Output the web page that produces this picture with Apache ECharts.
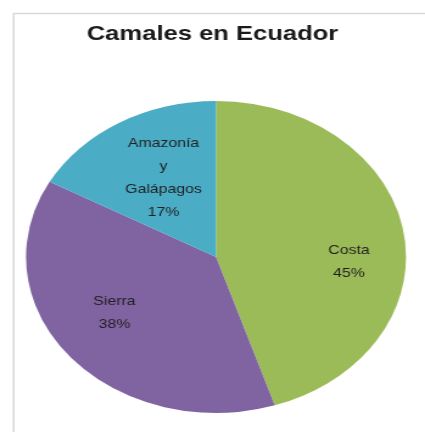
<!DOCTYPE html>
<html>
<head>
<meta charset="utf-8">
<script src="https://cdn.jsdelivr.net/npm/echarts@6/dist/echarts.min.js"></script>
<style>
html,body{margin:0;padding:0;background:#fff;overflow:hidden;width:425px;height:432px;}
#chart{width:349px;height:432px;transform:scaleX(1.2178);transform-origin:0 0;}
</style>
</head>
<body>
<div id="chart"></div>
<script>
const titleText = 'Camales en Ecuador';
const categories = ['Costa', 'Sierra', 'Amazonía y Galápagos'];
const values = [45, 38, 17];
const colors = ['#9BBB59', '#8064A2', '#4BACC6'];

const R = 156;
const cx = 177.4, cy = 257;
const labelShift = [[6, 21], [-3, -11], [10, 11]];
const data = categories.map((c, i) => ({ name: c, value: values[i], itemStyle: { color: colors[i] } }));

const chart = echarts.init(document.getElementById('chart'), null, { renderer: 'canvas' });
chart.setOption({
  backgroundColor: '#ffffff',
  animation: false,
  title: {
    text: titleText,
    left: 'center',
    top: 19,
    textStyle: { fontFamily: 'Liberation Sans, Arial, sans-serif', fontSize: 21, fontWeight: 'bold', color: '#1a1a1a' }
  },
  graphic: [
    { type: 'line', shape: { x1: 10.7, y1: 13.5, x2: 349, y2: 13.5 }, style: { stroke: '#d9d9d9', lineWidth: 1.5 }, silent: true },
    { type: 'line', shape: { x1: 11.2, y1: 13.5, x2: 11.2, y2: 432 }, style: { stroke: '#d9d9d9', lineWidth: 1.5 }, silent: true }
  ],
  series: [
    {
      type: 'pie',
      center: [cx, cy],
      radius: [0, R],
      startAngle: 90,
      clockwise: true,
      data: data,
      label: { show: false },
      labelLine: { show: false },
      itemStyle: { borderWidth: 0 },
      silent: true
    },
    {
      type: 'pie',
      center: [cx, cy],
      radius: [R * 0.3, R],
      startAngle: 90,
      clockwise: true,
      data: categories.map((c, i) => ({ name: c, value: values[i] })),
      itemStyle: { color: 'rgba(0,0,0,0)', borderWidth: 0 },
      label: {
        show: true,
        position: 'inside',
        formatter: p => p.name.split(' ').join('\n') + '\n' + p.value + '%',
        fontFamily: 'Liberation Sans, Arial, sans-serif',
        fontSize: 13,
        lineHeight: 23,
        color: '#1f1f1f'
      },
      labelLayout: p => ({ dx: labelShift[p.dataIndex][0], dy: labelShift[p.dataIndex][1] }),
      labelLine: { show: false },
      silent: true
    }
  ]
});
</script>
</body>
</html>
